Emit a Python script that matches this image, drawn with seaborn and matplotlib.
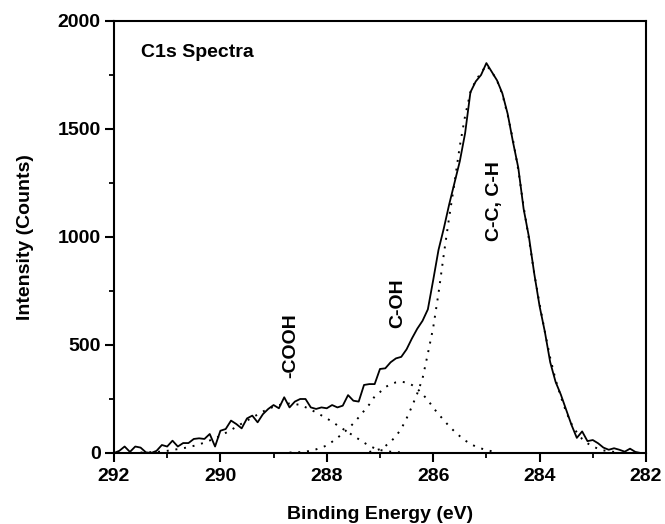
import numpy as np
import pandas as pd
import matplotlib
matplotlib.use("Agg")
import matplotlib.pyplot as plt
import seaborn as sns
from matplotlib.ticker import MultipleLocator

# ---- data ----
energy = np.round(np.arange(292.0, 281.95, -0.1), 1)
measured = [
    0, 10, 30, 5, 30, 25, 3, 0, 10, 37, 30,          # 292.0 - 291.0
    57, 30, 46, 46, 65, 68, 65, 88, 30, 103,         # 290.9 - 290.0
    111, 150, 134, 114, 160, 173, 142, 180, 204, 222,  # 289.9 - 289.0
    207, 258, 211, 238, 250, 250, 211, 204, 211, 207,  # 288.9 - 288.0
    222, 211, 219, 268, 242, 238, 315, 319, 319, 389,  # 287.9 - 287.0
    392, 420, 438, 445, 480, 530, 575, 612, 665, 800,  # 286.9 - 286.0
    940, 1040, 1150, 1250, 1350, 1480, 1670, 1720, 1750, 1805,  # 285.9 - 285.0
    1765, 1725, 1665, 1570, 1440, 1320, 1130, 1000, 830, 680,  # 284.9 - 284.0
    560, 420, 330, 270, 200, 130, 70, 100, 55, 60,     # 283.9 - 283.0
    45, 25, 15, 22, 15, 6, 20, 5, 0, 0,                # 282.9 - 282.0
]

e_cooh = np.round(np.arange(291.5, 286.55, -0.1), 1)
cooh = [
    2, 3, 4, 5, 7, 10, 14, 18, 22, 27,          # 291.5 - 290.6
    33, 40, 48, 58, 68, 80, 93, 107, 121, 136,  # 290.5 - 289.6
    150, 164, 178, 192, 204, 214, 222, 227, 229, 227,  # 289.5 - 288.6
    222, 212, 200, 188, 174, 160, 145, 128, 112, 96,   # 288.5 - 287.6
    80, 64, 48, 33, 22, 14, 9, 6, 4, 3,          # 287.5 - 286.6
]

e_coh = np.round(np.arange(288.7, 284.75, -0.1), 1)
coh = [
    2, 3, 4, 6, 11, 17, 25, 35, 52, 70,          # 288.7 - 287.8
    91, 112, 137, 165, 195, 225, 262, 282, 305, 318,  # 287.7 - 286.8
    327, 330, 326, 315, 298, 272, 245, 210, 180, 152,  # 286.7 - 285.8
    124, 100, 78, 58, 42, 30, 21, 14, 8, 4,      # 285.7 - 284.8
]

e_cc = np.round(np.arange(287.2, 282.45, -0.1), 1)
cc = [
    5, 10, 18, 32, 52, 78, 112, 160, 215, 275,   # 287.2 - 286.3
    345, 460, 580, 739, 920, 1090, 1250, 1420, 1560, 1670,  # 286.2 - 285.3
    1725, 1760, 1795, 1765, 1725, 1660, 1565, 1450, 1310, 1140,  # 285.2 - 284.3
    990, 830, 690, 560, 440, 340, 260, 190, 135, 95,  # 284.2 - 283.3
    65, 45, 30, 20, 12, 8, 5, 3,                 # 283.2 - 282.5
]

x_ticks = [292, 290, 288, 286, 284, 282]
y_ticks = [0, 500, 1000, 1500, 2000]

# ---- plotting ----
sns.set_style("ticks")
plt.rcParams['font.family'] = ['Liberation Sans', 'DejaVu Sans']
plt.rcParams['font.weight'] = 'bold'
plt.rcParams['text.color'] = 'black'
plt.rcParams['axes.labelcolor'] = 'black'
plt.rcParams['xtick.color'] = 'black'
plt.rcParams['ytick.color'] = 'black'
plt.rcParams['axes.edgecolor'] = 'black'

FS = 14

fig = plt.figure(figsize=(6.65, 5.24), dpi=100)
ax = fig.add_axes([0.1714, 0.1355, 0.80, 0.8245])

df_meas = pd.DataFrame({"E": energy, "I": measured})
sns.lineplot(data=df_meas, x="E", y="I", ax=ax, color="black", linewidth=1.3,
             sort=False, estimator=None)

dot = (0, (1, 3.5))
for e, v in [(e_cooh, cooh), (e_coh, coh), (e_cc, cc)]:
    d = pd.DataFrame({"E": e, "I": v})
    sns.lineplot(data=d, x="E", y="I", ax=ax, color="black", linewidth=1.4,
                 linestyle=dot, sort=False, estimator=None)

ax.set_xlim(292, 282)
ax.set_ylim(0, 2000)
ax.set_xticks(x_ticks)
ax.set_yticks(y_ticks)
ax.xaxis.set_minor_locator(MultipleLocator(1))
ax.yaxis.set_minor_locator(MultipleLocator(250))
ax.tick_params(axis='both', which='major', direction='out', length=6.5, width=1.5,
               labelsize=FS, top=False, right=False, colors='black')
ax.tick_params(axis='x', which='major', pad=4.5)
ax.tick_params(axis='y', which='major', pad=3)
ax.tick_params(axis='both', which='minor', direction='out', length=3.5, width=1.3,
               top=False, right=False, colors='black')
for lab in ax.get_xticklabels() + ax.get_yticklabels():
    lab.set_fontweight('bold')
for sp in ax.spines.values():
    sp.set_linewidth(1.5)
    sp.set_color('black')

ax.set_xlabel("Binding Energy (eV)", fontsize=FS, fontweight='bold', color='black')
ax.set_ylabel("Intensity (Counts)", fontsize=FS, fontweight='bold', color='black')
ax.xaxis.set_label_coords(0.5, -0.122)
ax.yaxis.set_label_coords(-0.150, 0.5)

ax.text(291.5, 1855, "C1s Spectra", fontsize=FS, fontweight='bold',
        ha='left', va='center', color='black')
ax.text(288.67, 495, "-COOH", fontsize=FS, fontweight='bold', rotation=90,
        ha='center', va='center', color='black')
ax.text(286.66, 694, "C-OH", fontsize=FS, fontweight='bold', rotation=90,
        ha='center', va='center', color='black')
ax.text(284.84, 1166, "C-C, C-H", fontsize=FS, fontweight='bold', rotation=90,
        ha='center', va='center', color='black')

fig.savefig("out.png", dpi=100)
